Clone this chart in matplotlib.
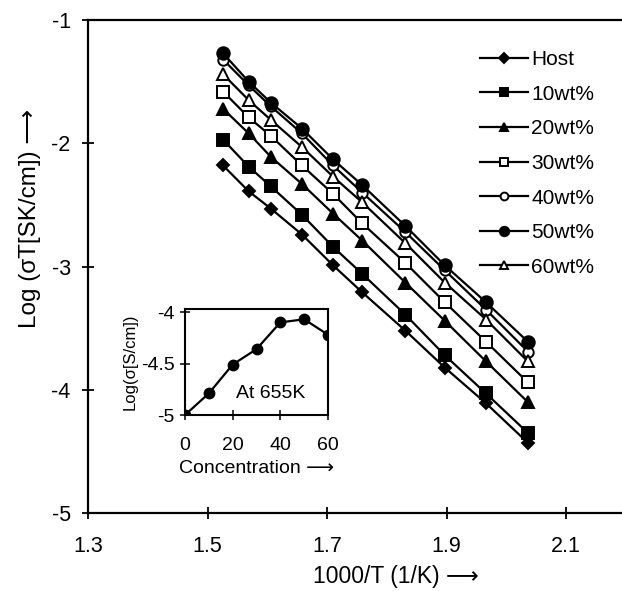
import numpy as np
import matplotlib
matplotlib.use("Agg")
import matplotlib.pyplot as plt

plt.rcParams['font.family'] = ['Liberation Sans', 'DejaVu Sans']

# 1000/T values shared by all series
inv_t = [1.526, 1.569, 1.606, 1.658, 1.710, 1.759, 1.831, 1.897, 1.966, 2.036]

host = [-2.18, -2.39, -2.53, -2.74, -2.99, -3.21, -3.52, -3.82, -4.11, -4.43]
wt10 = [-1.97, -2.19, -2.35, -2.58, -2.84, -3.06, -3.39, -3.72, -4.03, -4.35]
wt20 = [-1.72, -1.92, -2.11, -2.33, -2.57, -2.79, -3.13, -3.44, -3.77, -4.10]
wt30 = [-1.58, -1.79, -1.94, -2.18, -2.41, -2.65, -2.97, -3.29, -3.61, -3.94]
wt40 = [-1.32, -1.53, -1.70, -1.92, -2.18, -2.40, -2.72, -3.03, -3.35, -3.69]
wt50 = [-1.27, -1.50, -1.67, -1.88, -2.13, -2.34, -2.67, -2.99, -3.29, -3.61]
wt60 = [-1.44, -1.65, -1.81, -2.03, -2.27, -2.48, -2.81, -3.13, -3.43, -3.77]

labels = ["Host", "10wt%", "20wt%", "30wt%", "40wt%", "50wt%", "60wt%"]

# inset: conductivity at 655K vs concentration
conc = [0, 10, 20, 30, 40, 50, 60]
log_sigma = [-5.0, -4.79, -4.51, -4.36, -4.10, -4.07, -4.22]

fig = plt.figure(figsize=(6.22, 5.91), dpi=100)
ax = fig.add_axes([0.1415, 0.132, 0.857, 0.834])

series = [host, wt10, wt20, wt30, wt40, wt50, wt60]
styles = [("D", "k", 6.5), ("s", "k", 8), ("^", "k", 8.5), ("s", "w", 8),
          ("o", "w", 7.5), ("o", "k", 9), ("^", "w", 8.5)]
for ys, (m, fc, ms), lab in zip(series, styles, labels):
    ax.plot(inv_t, ys, color="k", lw=1.6, marker=m, ms=ms, mfc=fc,
            mec="k", mew=1.4, label=lab)

ax.set_xlim(1.3, 2.192)
ax.set_ylim(-5, -1)
ax.set_xticks([1.3, 1.5, 1.7, 1.9, 2.1])
ax.set_yticks([-5, -4, -3, -2, -1])
ax.set_yticklabels(["-5", "-4", "-3", "-2", "-1"])
ax.tick_params(direction="inout", length=9, width=1.3, labelsize=15.5)
ax.tick_params(axis="x", pad=12)
ax.tick_params(axis="y", pad=8)
for s in ["left", "bottom", "top"]:
    ax.spines[s].set_linewidth(1.6)
ax.spines["right"].set_visible(False)

leg = ax.legend(loc="upper left", bbox_to_anchor=(480 / 622, 1 - 50 / 591),
                bbox_transform=fig.transFigure, frameon=False, fontsize=15,
                handlelength=2.3, handletextpad=0.15, labelspacing=0.75,
                markerscale=0.75, borderaxespad=0, borderpad=0)

fig.text(30 / 622, 1 - 218 / 591, "Log (\u03c3T[SK/cm]) \u27f6", rotation=90,
         ha="center", va="center", fontsize=17.5)
fig.text(396 / 622, 1 - 577 / 591, "1000/T (1/K) \u27f6", ha="center",
         va="center", fontsize=16.5)

# inset
ins = fig.add_axes([185 / 622, 1 - 415 / 591, 143 / 622, 106 / 591])
ins.plot(conc, log_sigma, color="k", lw=1.6, marker="o", ms=7.5)
ins.set_xlim(0, 60)
ins.set_ylim(-5, -3.97)
ins.set_xticks([0, 20, 40, 60])
ins.set_yticks([-5, -4.5, -4])
ins.set_yticklabels(["-5", "-4.5", "-4"])
ins.tick_params(direction="inout", length=7, width=1.1, labelsize=14)
ins.tick_params(axis="x", pad=12)
ins.tick_params(axis="y", pad=4)
for s in ins.spines.values():
    s.set_linewidth(1.5)
ins.set_xlabel("Concentration \u27f6", fontsize=14, labelpad=5)
ins.set_ylabel("Log(\u03c3[S/cm])", fontsize=12, labelpad=2)
ins.text(36, -4.79, "At 655K", ha="center", va="center", fontsize=14)
ins.patch.set_alpha(0)

fig.savefig("out.png", dpi=100)
